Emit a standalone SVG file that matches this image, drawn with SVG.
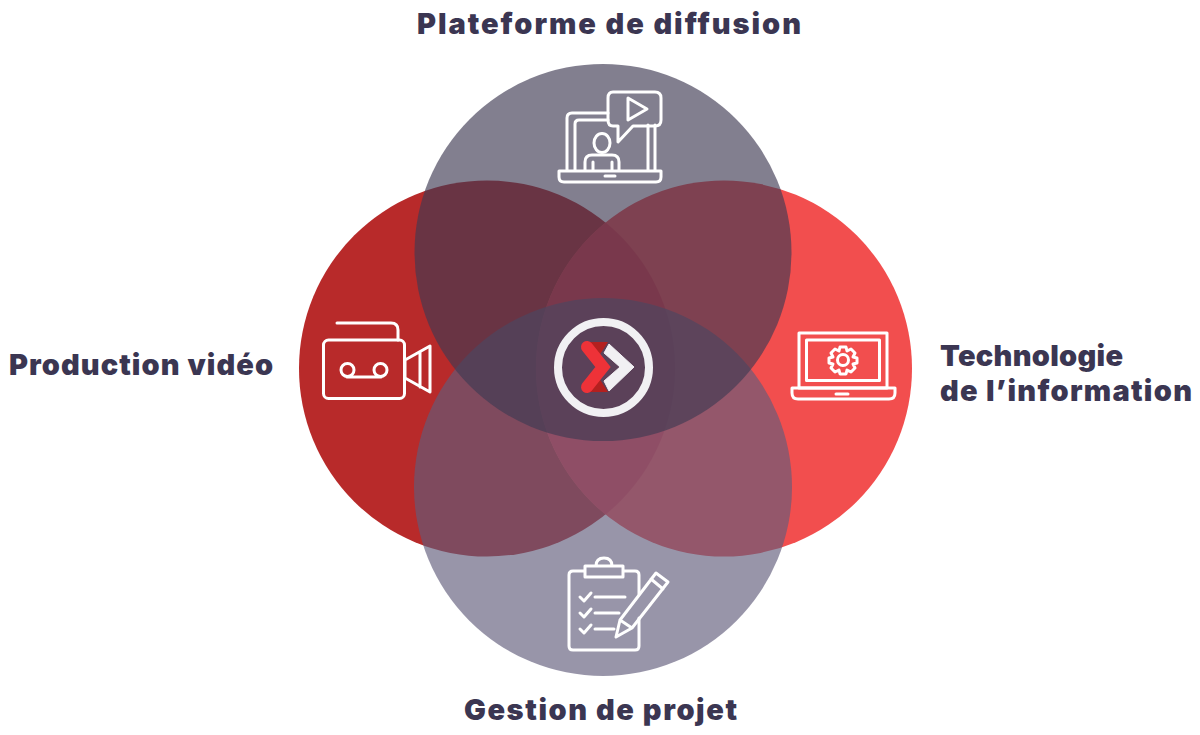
<svg xmlns="http://www.w3.org/2000/svg" width="1200" height="735" viewBox="0 0 1200 735">
<style>
text{font-family:"Inter","Lato","Liberation Sans",sans-serif;font-weight:900;font-size:29px;fill:#3b3652}
.i{fill:none;stroke:#fff;stroke-width:3;stroke-linejoin:round;stroke-linecap:round}
</style>
<rect width="1200" height="735" fill="#fff"/>
<g id="circles">
<circle id="c-left" cx="487" cy="368.5" r="188" fill="#b82a2a"/>
<circle id="c-right" cx="724" cy="368.5" r="188" fill="#f24e4e"/>
<path id="lens" d="M605.500 222.500A188 188 0 0 1 605.500 514.500A188 188 0 0 1 605.500 222.500Z" fill="#e63640"/>
<circle id="c-bottom" cx="603" cy="487" r="189" fill="#615c7b" fill-opacity=".65"/>
<circle id="c-top" cx="603" cy="252.500" r="188.500" fill="#3f3a53" fill-opacity=".65"/>
</g>
<g id="plateforme">
<path class="i" d="M608 113H572Q567 113 567 118V170M575 170V124Q575 120 579 120H608M655 125V170M648 125V170"/>
<path class="i" d="M613 92H655Q661 92 661 98V120Q661 126 655 126H633L618 142V126H613Q608 126 608 120V98Q608 92 613 92Z"/>
<path class="i" d="M628 98L647 109L628 120Z"/>
<ellipse class="i" cx="602" cy="143" rx="8" ry="9.500"/>
<path class="i" d="M585 170V162Q585 155 592 155H612Q619 155 619 162V170M593 162V170M612 162V170"/>
<path class="i" d="M559 171H661V177Q661 182 656 182H564Q559 182 559 177ZM605 176H615"/>
<text x="417" y="34" textLength="384" lengthAdjust="spacing">Plateforme de diffusion</text>
</g>
<g id="production">
<path class="i" d="M337 323H391Q398 323 398 330V340"/>
<rect class="i" x="323.500" y="340" width="81" height="58.500" rx="5"/>
<circle class="i" cx="347.500" cy="370" r="6.500"/>
<circle class="i" cx="380.500" cy="370" r="6.500"/>
<path class="i" d="M347 377H381"/>
<path class="i" d="M405 360L430 346V392L405 378ZM420 352V387"/>
<text x="9" y="375" textLength="264" lengthAdjust="spacing">Production vidéo</text>
</g>
<g id="technologie">
<rect class="i" x="799" y="333" width="88" height="55"/>
<rect class="i" x="806.500" y="340" width="73" height="40.500"/>
<path class="i" d="M792 388H895V393Q895 399 889 399H798Q792 399 792 393ZM836 394H848"/>
<circle class="i" cx="843" cy="360" r="5.500"/>
<path class="i" d="M840 347H846L847 351L851 349L855 353L853 357L857 358V363L853 364L855 368L851 372L847 370L846 374H840L839 370L835 372L831 368L833 364L829 363V358L833 357L831 353L835 349L839 351Z"/>
<text x="940" y="366" textLength="183" lengthAdjust="spacing">Technologie</text>
<text x="940" y="401" textLength="252" lengthAdjust="spacing">de l’information</text>
</g>
<g id="gestion">
<path class="i" d="M584 571H573Q569 571 569 575V646Q569 650 573 650H635Q639 650 639 646V618M639 594V575Q639 571 635 571H624"/>
<path class="i" d="M585 566H623V577H585ZM596 566Q596 558 604 558Q612 558 612 566"/>
<path class="i" d="M580 597L584 601L591 593M595 597H625M580 613L584 617L591 609M595 613H619M580 629L584 633L591 625M595 629H614"/>
<path class="i" d="M656 573L668 582L632 628L616 637L620 620ZM651 579L663 589M620 620L632 628"/>
<text x="464" y="720" textLength="273" lengthAdjust="spacing">Gestion de projet</text>
</g>
<g id="logo">
<circle cx="603.500" cy="367.500" r="45.500" fill="none" stroke="#f1f0f3" stroke-width="8"/>
<path d="M588 342H608L599 356ZM588 392H608L599 378Z" fill="#b3201f"/>
<path d="M609 344L634 367L609 391L604 381L620 367L604 353Z" fill="#f1f0f3" stroke="#f1f0f3" stroke-width="1" stroke-linejoin="round"/>
<path d="M587 347L603 367L587 387" fill="none" stroke="#ee3238" stroke-width="12" stroke-linejoin="miter" stroke-linecap="round"/>
</g>
</svg>
